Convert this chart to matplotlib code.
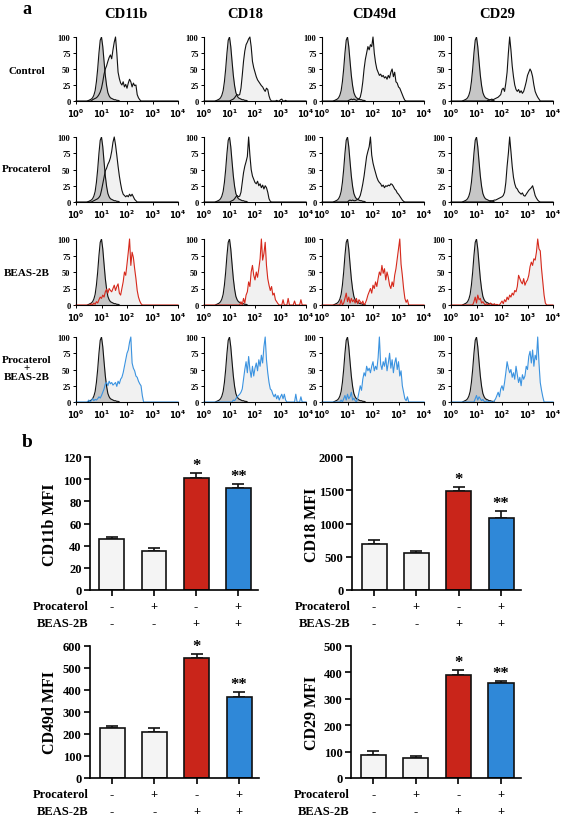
import numpy as np
import matplotlib
matplotlib.use("Agg")
import matplotlib.pyplot as plt
from matplotlib.ticker import LogLocator, NullFormatter

plt.rcParams['font.family'] = ['Liberation Serif', 'DejaVu Serif']
plt.rcParams['font.weight'] = 'bold'

W, H = 567, 820

# ---- panel a: flow cytometry histograms -------------------------------
# heights (% of max) read every 0.05 log10 units, starting at *_start
STEP = 0.05

markers = ['CD11b', 'CD18', 'CD49d', 'CD29']
conditions = ['Control', 'Procaterol', 'BEAS-2B', 'Procaterol\n+\nBEAS-2B']

isotype_start = 0.45
isotype = [0, 1, 2, 3, 5, 9, 16, 30, 50, 75, 95, 100, 85, 62, 40, 24, 13, 8, 5, 4,
           3, 2, 2, 1, 1, 0]

ctrl_cd11b_start = 0.6
ctrl_cd11b = [0, 2, 3, 4, 5, 7, 10, 14, 20, 30, 42, 50, 55, 62, 68, 72, 66, 80, 92, 100,
              75, 45, 35, 28, 25, 30, 22, 26, 20, 28, 34, 30, 22, 28, 24, 25, 10, 5, 2, 0]
ctrl_cd18_start = 1.0
ctrl_cd18 = [0, 1, 2, 3, 5, 8, 10, 9, 10, 20, 40, 62, 78, 88, 92, 97, 100, 85, 62, 52,
             45, 38, 33, 30, 27, 24, 22, 18, 15, 20, 18, 8, 2, 0, 0, 0, 0, 1, 0, 0,
             2, 3, 0, 0, 1, 0]
ctrl_cd49d_start = 1.0
ctrl_cd49d = [0, 1, 2, 3, 2, 3, 2, 1, 2, 3, 6, 15, 30, 50, 65, 75, 85, 80, 88, 85,
              100, 75, 60, 50, 45, 40, 42, 38, 40, 36, 38, 34, 40, 36, 45, 50, 38, 45, 30, 28,
              22, 20, 15, 10, 5, 1, 0]
ctrl_cd29_start = 1.4
ctrl_cd29 = [0, 1, 1, 2, 3, 2, 3, 4, 5, 6, 8, 10, 18, 20, 15, 28, 45, 75, 100, 80,
             55, 38, 25, 18, 15, 18, 13, 16, 12, 15, 22, 30, 40, 45, 50, 46, 38, 25, 15, 10,
             6, 3, 0]

proc_cd11b_start = 0.6
proc_cd11b = [0, 1, 2, 3, 4, 5, 7, 10, 18, 28, 38, 48, 52, 58, 62, 68, 78, 92, 100, 88,
              72, 55, 40, 28, 18, 12, 10, 8, 10, 8, 12, 9, 12, 8, 4, 2, 0]
proc_cd18_start = 1.0
proc_cd18 = [0, 1, 2, 3, 5, 8, 10, 8, 9, 15, 30, 45, 55, 62, 70, 100, 72, 50, 40, 35,
             30, 28, 32, 25, 28, 22, 26, 20, 25, 22, 15, 5, 1, 0]
proc_cd49d_start = 1.0
proc_cd49d = [0, 2, 3, 2, 3, 2, 2, 3, 4, 6, 10, 18, 28, 40, 55, 70, 78, 85, 100, 72,
              60, 52, 45, 38, 33, 30, 28, 24, 26, 22, 25, 24, 26, 25, 28, 27, 24, 20, 18, 14,
              12, 9, 6, 3, 1, 0]
proc_cd29_start = 1.5
proc_cd29 = [0, 1, 2, 2, 3, 3, 4, 5, 6, 7, 8, 10, 15, 30, 55, 75, 100, 78, 55, 38,
             28, 22, 20, 16, 14, 12, 14, 10, 9, 12, 15, 18, 20, 22, 25, 18, 10, 6, 3, 1, 0]

beas_cd11b_start = 0.55
beas_cd11b = [0, 2, 0, 3, 1, 5, 3, 8, 12, 10, 15, 12, 20, 24, 18, 25, 22, 20, 25, 30,
              22, 28, 32, 18, 15, 25, 35, 50, 45, 62, 80, 100, 60, 80, 72, 55, 40, 22, 12, 6,
              2, 0]
beas_cd18_start = 1.4
beas_cd18 = [0, 5, 0, 10, 3, 15, 20, 35, 28, 50, 60, 45, 38, 50, 42, 55, 70, 100, 68, 78,
             95, 60, 40, 30, 22, 28, 15, 18, 8, 5, 2, 0, 0, 0, 8, 0, 0, 0, 10, 0,
             0, 0, 0, 6, 0, 0, 0, 0, 8, 0, 0, 0]
beas_cd49d_start = 0.7
beas_cd49d = [0, 8, 0, 3, 10, 18, 5, 12, 3, 10, 5, 8, 3, 10, 2, 8, 5, 2, 6, 0,
              3, 8, 15, 20, 25, 18, 30, 25, 35, 28, 40, 50, 45, 60, 48, 55, 38, 50, 42, 30,
              25, 35, 28, 45, 55, 70, 85, 100, 62, 45, 25, 10, 4, 8, 0]
beas_cd29_start = 0.85
beas_cd29 = [0, 5, 12, 3, 15, 8, 10, 3, 5, 2, 0, 2, 0, 1, 3, 1, 0, 2, 0, 1,
             0, 0, 3, 6, 2, 8, 5, 12, 8, 15, 12, 18, 15, 22, 20, 28, 45, 40, 35, 32,
             40, 30, 35, 38, 45, 58, 65, 60, 70, 68, 80, 100, 85, 82, 55, 35, 15, 3, 0]

both_cd11b_start = 0.45
both_cd11b = [0, 3, 0, 2, 5, 2, 4, 3, 5, 8, 6, 10, 15, 20, 28, 30, 25, 32, 28, 30,
              26, 28, 30, 24, 32, 28, 35, 38, 45, 55, 65, 75, 80, 92, 100, 60, 52, 48, 40, 38,
              32, 28, 25, 10, 0]
both_cd18_start = 1.1
both_cd18 = [0, 3, 2, 5, 8, 10, 12, 15, 20, 35, 50, 62, 45, 70, 50, 38, 55, 40, 52, 60,
             48, 65, 55, 72, 60, 85, 100, 65, 45, 30, 20, 18, 12, 8, 12, 5, 10, 3, 8, 12,
             5, 12, 3, 0, 0, 0, 0, 0, 0, 0, 12, 0, 0, 0, 8, 0, 0, 0]
both_cd49d_start = 0.7
both_cd49d = [0, 3, 0, 5, 10, 3, 12, 5, 8, 15, 3, 6, 2, 0, 5, 15, 25, 18, 35, 45,
              40, 55, 48, 52, 45, 55, 62, 48, 55, 50, 68, 100, 58, 50, 62, 55, 68, 48, 60, 75,
              52, 65, 45, 60, 68, 50, 62, 40, 48, 25, 15, 5, 2, 8, 0]
both_cd29_start = 0.9
both_cd29 = [0, 5, 10, 3, 8, 5, 2, 4, 1, 0, 2, 1, 0, 1, 0, 0, 2, 5, 10, 15,
             8, 20, 25, 18, 30, 45, 62, 52, 45, 50, 38, 45, 35, 55, 42, 30, 38, 25, 42, 35,
             40, 55, 50, 70, 78, 60, 80, 55, 72, 65, 100, 60, 30, 18, 8, 0]

hist_rows = [
    [(ctrl_cd11b_start, ctrl_cd11b), (ctrl_cd18_start, ctrl_cd18),
     (ctrl_cd49d_start, ctrl_cd49d), (ctrl_cd29_start, ctrl_cd29)],
    [(proc_cd11b_start, proc_cd11b), (proc_cd18_start, proc_cd18),
     (proc_cd49d_start, proc_cd49d), (proc_cd29_start, proc_cd29)],
    [(beas_cd11b_start, beas_cd11b), (beas_cd18_start, beas_cd18),
     (beas_cd49d_start, beas_cd49d), (beas_cd29_start, beas_cd29)],
    [(both_cd11b_start, both_cd11b), (both_cd18_start, both_cd18),
     (both_cd49d_start, both_cd49d), (both_cd29_start, both_cd29)],
]
row_colors = ['#111111', '#111111', '#d6291c', '#3b93e0']

# ---- panel b: MFI bar charts ------------------------------------------
procaterol_row = ['-', '+', '-', '+']
beas_row = ['-', '-', '+', '+']
stars = ['', '', '*', '**']

cd11b_mfi = [46, 35, 101, 92]
cd11b_err = [1.5, 2.5, 5, 3.5]
cd18_mfi = [685, 553, 1487, 1085]
cd18_err = [60, 30, 60, 100]
cd49d_mfi = [228, 208, 547, 369]
cd49d_err = [10, 18, 18, 23]
cd29_mfi = [89, 74, 389, 358]
cd29_err = [13, 10, 20, 8]

bar_colors = ['#f4f4f4', '#f4f4f4', '#c9251a', '#2f88d8']


def px_axes(fig, left, top, right, bottom):
    return fig.add_axes([left / W, 1 - bottom / H, (right - left) / W, (bottom - top) / H])


def hist_xy(start, heights):
    logs = start + STEP * np.arange(len(heights))
    return 10 ** logs, np.asarray(heights, dtype=float)


fig = plt.figure(figsize=(W / 100, H / 100), dpi=100)

col_left = [76, 204, 322, 451]
hist_w = 102
row_top = [38, 138, 240, 338]
row_bot = [102, 203, 306, 403]
col_title_x = [126, 245, 374, 497]
row_label_y = [72, 170, 273, 369]

fig.text(27 / W, 1 - 1 / H, 'a', fontsize=13, ha='center', va='top')
for j, m in enumerate(markers):
    fig.text(col_title_x[j] / W, 1 - 18 / H, m, fontsize=10.5, ha='center', va='baseline')
for i, c in enumerate(conditions):
    fig.text(27 / W, 1 - row_label_y[i] / H, c, fontsize=8, ha='center', va='center',
             linespacing=0.95)

iso_x, iso_y = hist_xy(isotype_start, isotype)
for i in range(4):
    for j in range(4):
        ax = px_axes(fig, col_left[j], row_top[i], col_left[j] + hist_w, row_bot[i])
        x, y = hist_xy(*hist_rows[i][j])
        col = row_colors[i]
        ax.fill_between(x, y, color='#f1f1f1', lw=0)
        ax.fill_between(iso_x, iso_y, color='#c6c6c6', lw=0)
        ax.plot(iso_x, iso_y, color='#111111', lw=0.8)
        xs = np.concatenate([[1], x, [1e4]])
        ys = np.concatenate([[0], y, [0]])
        ax.plot(xs, ys, color=col, lw=0.8, clip_on=False)
        ax.set_xscale('log')
        ax.set_xlim(1, 1e4)
        ax.set_ylim(0, 100)
        ax.set_xticks([1, 10, 100, 1000, 10000])
        ax.set_xticklabels([r'$10^{0}$', r'$10^{1}$', r'$10^{2}$', r'$10^{3}$', r'$10^{4}$'])
        ax.xaxis.set_minor_locator(LogLocator(base=10, subs=np.arange(2, 10)))
        ax.xaxis.set_minor_formatter(NullFormatter())
        ax.set_yticks([0, 25, 50, 75, 100])
        ax.tick_params(axis='both', which='major', labelsize=6, length=2.5, width=0.7,
                       pad=1.5, direction='out')
        ax.tick_params(axis='x', which='minor', length=1.3, width=0.5, direction='out')
        for s in ['top', 'right']:
            ax.spines[s].set_visible(False)
        for s in ['left', 'bottom']:
            ax.spines[s].set_linewidth(0.8)

# ---- panel b ----
fig.text(27 / W, 1 - 443 / H, 'b', fontsize=14, ha='center', va='center')

bar_panels = [
    (cd11b_mfi, cd11b_err, 'CD11b MFI', 120, 20, (90, 458, 258, 591), 50),
    (cd18_mfi, cd18_err, 'CD18 MFI', 2000, 500, (352, 458, 521, 591), 312),
    (cd49d_mfi, cd49d_err, 'CD49d MFI', 600, 100, (90, 647, 259, 779), 50),
    (cd29_mfi, cd29_err, 'CD29 MFI', 500, 100, (351, 647, 521, 779), 312),
]

pos = np.arange(4)
for vals, errs, label, ymax, ystep, (l, t, r, b), lab_x in bar_panels:
    ax = px_axes(fig, l, t, r, b)
    ax.bar(pos, vals, width=0.59, color=bar_colors, edgecolor='#111111', linewidth=1.2,
           zorder=2)
    ax.errorbar(pos, vals, yerr=[[0] * 4, errs], fmt='none', ecolor='#111111',
                elinewidth=1.2, capsize=4, capthick=1.2, zorder=1)
    for k in range(4):
        if stars[k]:
            ax.annotate(stars[k], xy=(pos[k], vals[k] + errs[k]), xytext=(0, 0),
                        textcoords='offset points', ha='center', va='bottom', fontsize=12)
    ax.set_xlim(-0.52, 3.47)
    ax.set_ylim(0, ymax)
    ax.set_yticks(np.arange(0, ymax + 1, ystep))
    ax.set_xticks(pos)
    ax.set_xticklabels([])
    ax.tick_params(axis='y', labelsize=9, length=4, width=1.2, pad=2)
    ax.tick_params(axis='x', length=4, width=1.2)
    for s in ['top', 'right']:
        ax.spines[s].set_visible(False)
    for s in ['left', 'bottom']:
        ax.spines[s].set_linewidth(1.2)
    fig.text(lab_x / W, 1 - (t + b) / 2 / H, label, rotation=90, fontsize=11.5,
             ha='center', va='center')
    # treatment table under the bars
    hgt = b - t
    for row_vals, name, dy in [(procaterol_row, 'Procaterol', 16), (beas_row, 'BEAS-2B', 33)]:
        yy = -dy / hgt
        ax.text(-0.01, yy, name, transform=ax.transAxes, ha='right', va='center', fontsize=9)
        for k in range(4):
            ax.text(pos[k], yy, row_vals[k], transform=ax.get_xaxis_transform(),
                    ha='center', va='center', fontsize=9)

fig.savefig('out.png', dpi=100)
